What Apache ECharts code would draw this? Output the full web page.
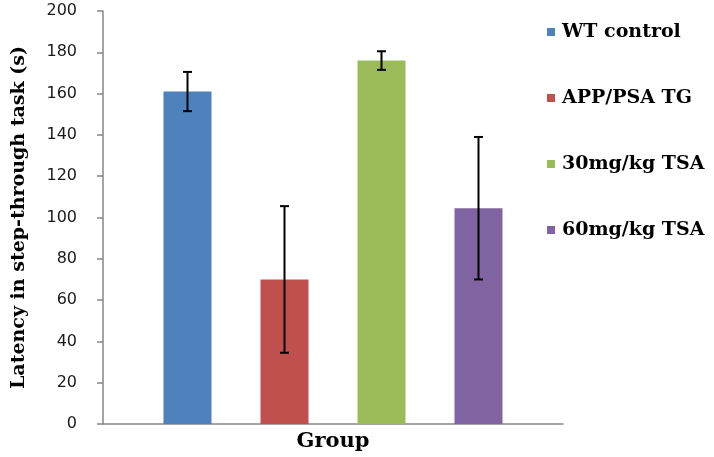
<!DOCTYPE html>
<html>
<head>
<meta charset="utf-8">
<script src="https://cdn.jsdelivr.net/npm/echarts@6/dist/echarts.min.js"></script>
<style>html,body{margin:0;padding:0;background:#fff}#c{width:714px;height:457px}</style>
</head>
<body>
<div id="c"></div>
<script>
const groups = ['WT control', 'APP/PSA TG', '30mg/kg TSA', '60mg/kg TSA'];
const means = [161, 70, 176, 104.5];
const errors = [9.5, 35.5, 4.5, 34.5];
const colors = ['#4F81BD', '#C0504D', '#9BBB59', '#8064A2'];
const yTicks = { min: 0, max: 200, interval: 20 };

const BAR_W = 48, BAR_GAP = 49;
const serif = '"DejaVu Serif", "Liberation Serif", serif';

const barSeries = groups.map((g, i) => ({
  name: g,
  type: 'bar',
  data: [means[i]],
  barWidth: BAR_W,
  barGap: (BAR_GAP / BAR_W * 100).toFixed(1) + '%',
  itemStyle: { color: colors[i] },
  emphasis: { disabled: true }
}));

const errData = groups.map((g, i) => [0, means[i], errors[i], i]);

const chart = echarts.init(document.getElementById('c'));
chart.setOption({
  animation: false,
  grid: { left: 103, right: 151, top: 11, bottom: 32 },
  legend: {
    data: groups,
    orient: 'vertical',
    left: 542,
    top: 16,
    itemWidth: 8,
    itemHeight: 8,
    itemGap: 44,
    icon: 'rect',
    textStyle: { fontFamily: serif, fontWeight: 'bold', fontSize: 19, color: '#000', lineHeight: 22, padding: [0, 0, 0, 2] }
  },
  xAxis: {
    type: 'category',
    data: [''],
    name: 'Group',
    nameLocation: 'middle',
    nameGap: 7,
    nameTextStyle: { fontFamily: serif, fontWeight: 'bold', fontSize: 21, color: '#000' },
    axisLine: { lineStyle: { color: '#868686', width: 1.5 } },
    axisTick: { show: false },
    axisLabel: { show: false }
  },
  yAxis: {
    type: 'value',
    min: yTicks.min, max: yTicks.max, interval: yTicks.interval,
    name: 'Latency in step-through task (s)',
    nameLocation: 'middle',
    nameGap: 74,
    nameTextStyle: { fontFamily: serif, fontWeight: 'bold', fontSize: 19, color: '#000' },
    axisLine: { show: true, lineStyle: { color: '#868686', width: 1.5 } },
    axisTick: { show: true, length: 6, lineStyle: { color: '#868686', width: 1.5 } },
    axisLabel: { margin: 26, fontFamily: '"DejaVu Sans", sans-serif', fontSize: 16, color: '#1a1a1a' },
    splitLine: { show: false }
  },
  series: barSeries.concat([{
    type: 'custom',
    name: 'err',
    data: errData,
    encode: { x: 0, y: 1 },
    z: 10,
    renderItem: function (params, api) {
      const i = api.value(3);
      const m = api.value(1), e = api.value(2);
      const off = (i - 1.5) * (BAR_W + BAR_GAP);
      const top = api.coord([0, m + e]);
      const bot = api.coord([0, m - e]);
      const x = top[0] + off;
      const cap = 4.5;
      const st = { stroke: '#000', lineWidth: 2 };
      return {
        type: 'group',
        children: [
          { type: 'line', shape: { x1: x, y1: top[1], x2: x, y2: bot[1] }, style: st },
          { type: 'line', shape: { x1: x - cap, y1: top[1], x2: x + cap, y2: top[1] }, style: st },
          { type: 'line', shape: { x1: x - cap, y1: bot[1], x2: x + cap, y2: bot[1] }, style: st }
        ]
      };
    }
  }])
});
</script>
</body>
</html>
